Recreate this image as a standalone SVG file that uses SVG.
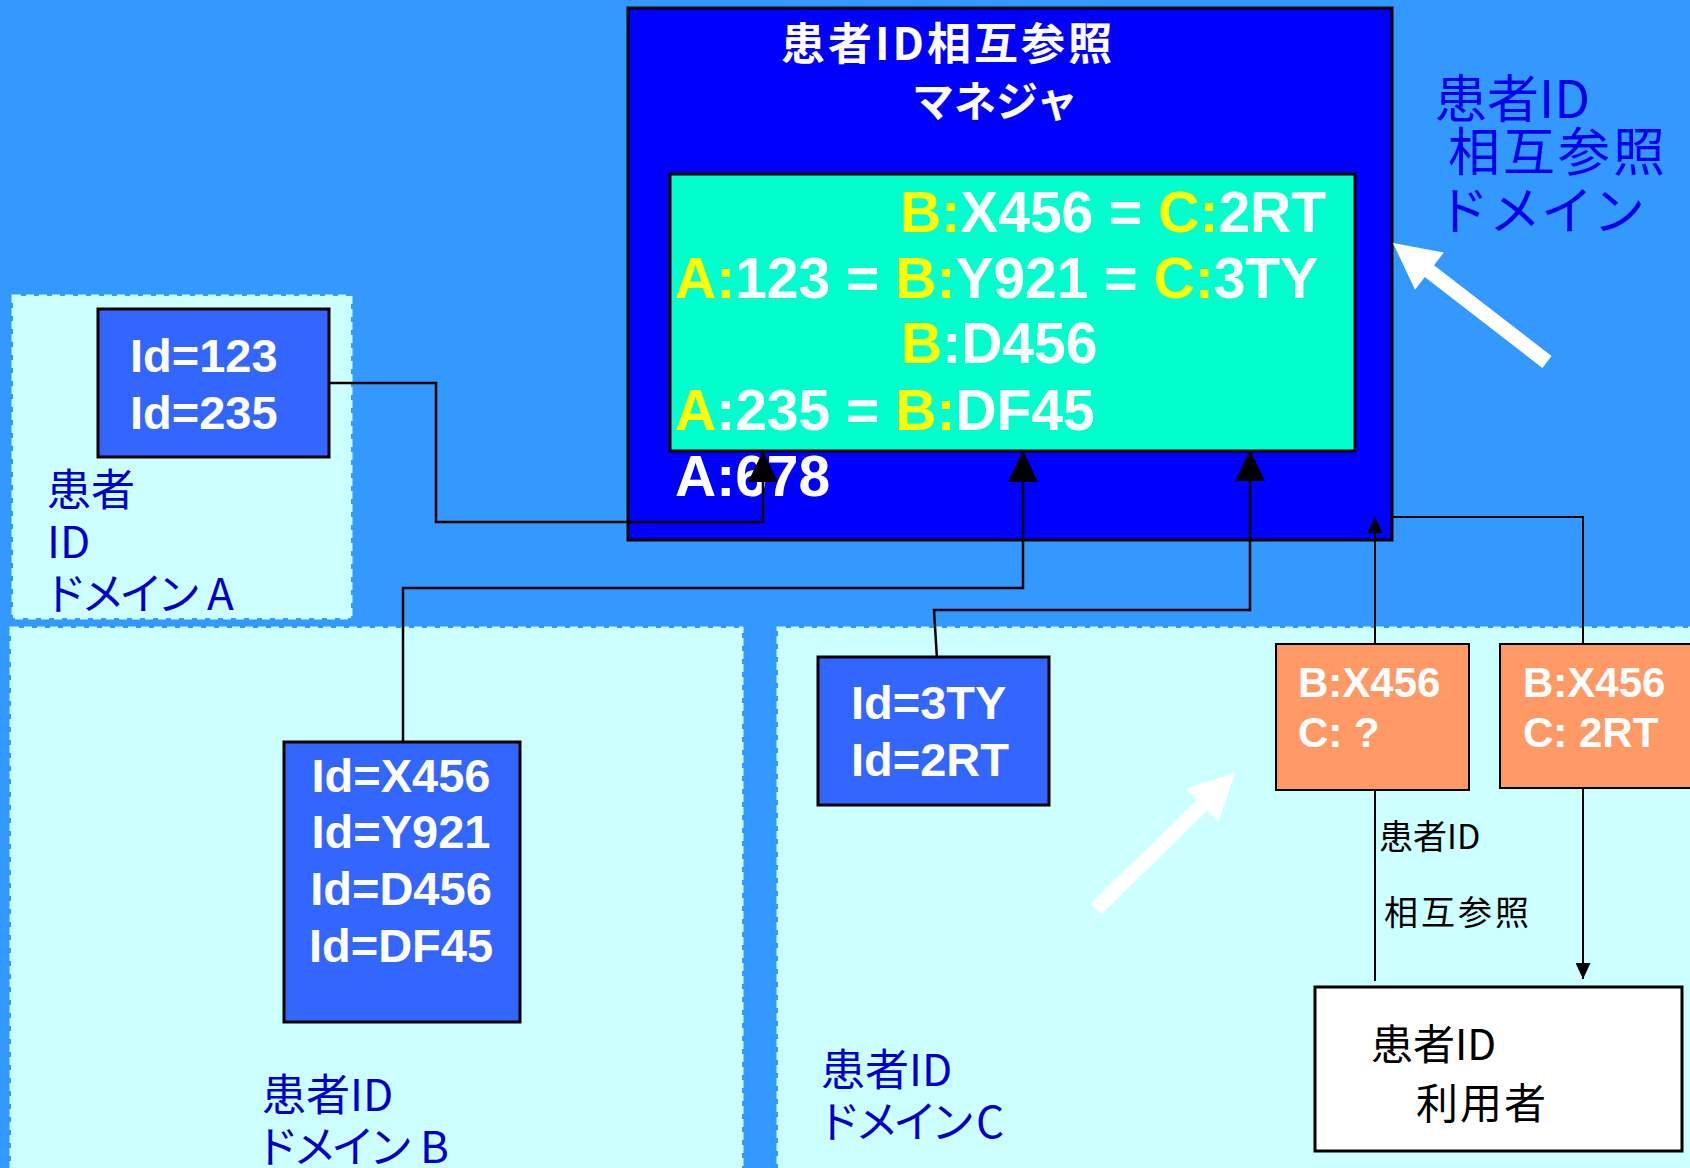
<svg xmlns="http://www.w3.org/2000/svg" width="1690" height="1168" viewBox="0 0 1690 1168">
<style>
.dom{fill:#CCFFFF;stroke:#CCFFFF;stroke-width:3;stroke-dasharray:8 5}
.box{stroke:#000;stroke-width:3}
.idbox{fill:#3366FF;stroke:#000;stroke-width:3}
.org{fill:#FF9966;stroke:#000;stroke-width:2}
.lat{font-family:"Liberation Sans",Arial,sans-serif;font-weight:bold;fill:#fff}
.cjk{font-family:"Noto Sans CJK JP","Noto Sans",sans-serif}
.dl{font-family:"Noto Sans CJK JP","Noto Sans",sans-serif;font-size:44px;fill:#0000CC}
.kt{letter-spacing:-6px}
.y{fill:#FFFF00}
.con{fill:none;stroke:#000;stroke-width:2.5}
.con2{fill:none;stroke:#000;stroke-width:2}
</style>
<defs>
<marker id="big" markerUnits="userSpaceOnUse" markerWidth="31" markerHeight="30" refX="31" refY="15" orient="auto">
<path d="M0,0 L31,15 L0,30 z" fill="#000"/>
</marker>
<marker id="small" markerUnits="userSpaceOnUse" markerWidth="16" markerHeight="15" refX="16" refY="7.5" orient="auto">
<path d="M0,0 L16,7.5 L0,15 z" fill="#000"/>
</marker>
</defs>
<rect x="0" y="0" width="1690" height="1168" fill="#3399FF"/>

<g id="domainA">
<rect class="dom" x="13" y="296" width="338" height="322"/>
<text class="dl" x="47" y="506">患者</text>
<text class="dl" x="47" y="558">ID</text>
<text class="dl" x="43" y="610"><tspan class="kt">ドメイン</tspan> <tspan x="207">A</tspan></text>
</g>
<g id="domainB">
<rect class="dom" x="11" y="628" width="731" height="560"/>
<text class="dl" x="262" y="1111">患者ID</text>
<text class="dl" x="255" y="1163"><tspan class="kt">ドメイン</tspan> <tspan x="420">B</tspan></text>
</g>
<g id="domainC">
<rect class="dom" x="778" y="628" width="930" height="560"/>
<text class="dl" x="821" y="1086">患者ID</text>
<text class="dl" x="817" y="1138"><tspan class="kt">ドメイン</tspan> <tspan x="976">C</tspan></text>
</g>

<g id="manager">
<rect class="box" x="628" y="8" width="764" height="532" fill="#0000FF"/>
<text class="cjk" x="781" y="60" font-size="44" font-weight="bold" fill="#fff" letter-spacing="3">患者ID相互参照</text>
<text class="cjk" x="912" y="117" font-size="42" font-weight="bold" fill="#fff">マネジャ</text>
<rect class="box" x="670" y="174" width="685" height="277" fill="#00FFCC"/>
<text class="lat" font-size="57" x="900" y="232"><tspan class="y">B:</tspan>X456 = <tspan class="y">C:</tspan>2RT</text>
<text class="lat" font-size="57" x="675" y="298"><tspan class="y">A:</tspan>123 = <tspan class="y">B:</tspan>Y921 = <tspan class="y">C:</tspan>3TY</text>
<text class="lat" font-size="57" x="901" y="363"><tspan class="y">B</tspan>:D456</text>
<text class="lat" font-size="57" x="675" y="430"><tspan class="y">A</tspan>:235 = <tspan class="y">B:</tspan>DF45</text>
<text class="lat" font-size="57" x="675" y="496">A:678</text>
</g>

<g id="domainLabel">
<text class="cjk" font-size="52" fill="#0000EE" x="1435" y="118">患者ID</text>
<text class="cjk" font-size="52" fill="#0000EE" x="1448" y="171" letter-spacing="3">相互参照</text>
<text class="cjk" font-size="52" fill="#0000EE" x="1437" y="230">ドメイン</text>
</g>

<g id="connectors">
<path class="con" d="M329,383 H436 V522 H763 V451" marker-end="url(#big)"/>
<path class="con" d="M403,748 V588 H1023 V451" marker-end="url(#big)"/>
<path class="con" d="M937,659 L934,610 H1250 V450" marker-end="url(#big)"/>
<path class="con2" d="M1375,981 V517" marker-end="url(#small)"/>
<path class="con2" d="M1392,517 H1583 V979" marker-end="url(#small)"/>
<text class="cjk" font-size="34" fill="#000" x="1379" y="849">患者ID</text>
<text class="cjk" font-size="34" fill="#000" x="1384" y="925" letter-spacing="3">相互参照</text>
</g>

<g id="idA">
<rect class="idbox" x="98" y="309" width="231" height="148"/>
<text class="lat" font-size="47" x="130" y="372">Id=123</text>
<text class="lat" font-size="47" x="130" y="429">Id=235</text>
</g>
<g id="idB">
<rect class="idbox" x="284" y="742" width="236" height="280"/>
<text class="lat" font-size="47" x="401" y="792" text-anchor="middle">Id=X456</text>
<text class="lat" font-size="47" x="401" y="848" text-anchor="middle">Id=Y921</text>
<text class="lat" font-size="47" x="401" y="905" text-anchor="middle">Id=D456</text>
<text class="lat" font-size="47" x="401" y="962" text-anchor="middle">Id=DF45</text>
</g>
<g id="idC">
<rect class="idbox" x="818" y="657" width="231" height="148"/>
<text class="lat" font-size="47" x="851" y="719">Id=3TY</text>
<text class="lat" font-size="47" x="851" y="776">Id=2RT</text>
</g>
<g id="query1">
<rect class="org" x="1276" y="644" width="193" height="146"/>
<text class="lat" font-size="42" x="1298" y="697">B:X456</text>
<text class="lat" font-size="42" x="1298" y="747">C: ?</text>
</g>
<g id="query2">
<rect class="org" x="1500" y="644" width="210" height="144"/>
<text class="lat" font-size="42" x="1523" y="697">B:X456</text>
<text class="lat" font-size="42" x="1523" y="747">C: 2RT</text>
</g>
<g id="user">
<rect class="box" x="1315" y="987" width="367" height="164" fill="#fff"/>
<text class="cjk" font-size="42" fill="#000" x="1371" y="1060">患者ID</text>
<text class="cjk" font-size="42" fill="#000" x="1416" y="1119" letter-spacing="2">利用者</text>
</g>

<g id="whiteArrows" fill="#fff">
<polygon points="1393,243 1443.8,252.5 1434.0,265.2 1551.6,356.1 1542.4,367.9 1424.8,277.0 1415.0,289.7"/>
<polygon points="1235,773 1218.5,822.0 1207.3,810.6 1101.2,914.4 1090.8,903.6 1196.9,799.8 1185.7,788.4"/>
</g>
</svg>
